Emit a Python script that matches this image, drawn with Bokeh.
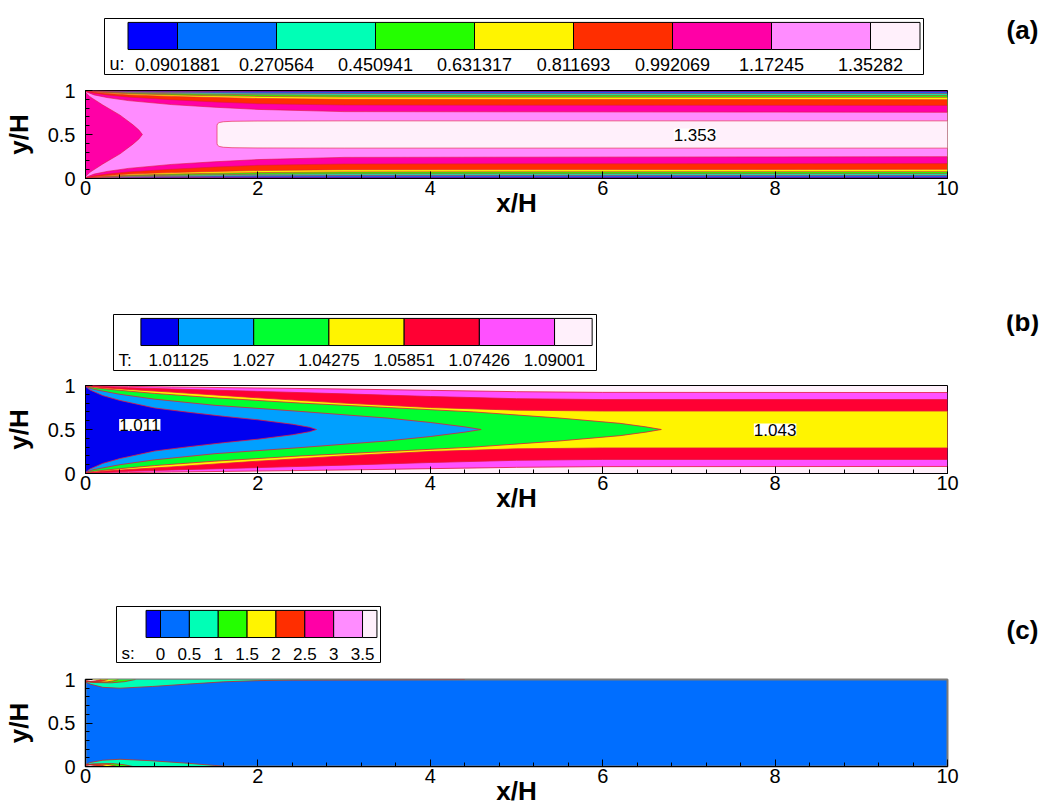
import numpy as np
from decimal import Decimal, ROUND_HALF_UP

from bokeh.plotting import figure
from bokeh.layouts import column, row
from bokeh.models import Range1d, FixedTicker, Label, Spacer
from bokeh.core.properties import value
from bokeh.embed import file_html
from bokeh.resources import INLINE

FONT = "Liberation Sans"
PAGE_W = 1051

# ---------------------------------------------------------------- colour tables
RAINBOW = ["#0000ff", "#006eff", "#00ffb6", "#24ff00", "#fff400",
           "#ff2e00", "#ff00a6", "#ff8cff", "#fff0fb"]
T_COLORS = ["#0000f0", "#00a0ff", "#00ff30", "#fff400", "#ff0033",
            "#ff50ff", "#fff0fb"]
LINE_RED = "#e01a3c"
LINE_S = "#b83030"

# ---------------------------------------------------------------- (a) velocity u
U_LEVELS = [0.0901881, 0.270564, 0.450941, 0.631317, 0.811693, 0.992069, 1.17245, 1.35282]
# distance of each u-contour from the walls at these stations
U_X = [0.0, 0.1, 0.25, 0.5, 1.0, 1.5, 2.0, 3.0, 10.0]
U_D0 = [0.001, 0.003, 0.005, 0.008, 0.010, 0.012, 0.013, 0.014, 0.014]
U_D1 = [0.002, 0.007, 0.012, 0.018, 0.024, 0.028, 0.031, 0.034, 0.035]
U_D2 = [0.003, 0.011, 0.018, 0.027, 0.036, 0.043, 0.048, 0.053, 0.055]
U_D3 = [0.004, 0.015, 0.025, 0.037, 0.050, 0.060, 0.067, 0.075, 0.078]
U_D4 = [0.005, 0.021, 0.034, 0.050, 0.067, 0.080, 0.090, 0.100, 0.104]
U_D5 = [0.007, 0.030, 0.050, 0.075, 0.105, 0.130, 0.150, 0.165, 0.170]
U_D6 = [0.012, 0.050, 0.080, 0.115, 0.160, 0.190, 0.215, 0.240, 0.248]
# inlet core still below the 1.17245 level
U_CORE_X = [0.0, 0.05, 0.2, 0.4, 0.55, 0.62, 0.66]
U_CORE_D = [0.02, 0.07, 0.165, 0.28, 0.39, 0.45, 0.5]
# region above the 1.35282 level
U_PEAK_X = [1.526, 1.53, 1.55, 1.6, 1.7, 2.0, 3.0, 10.0]
U_PEAK_D = [0.40, 0.38, 0.365, 0.355, 0.35, 0.347, 0.345, 0.345]
U_LABEL_X, U_LABEL_Y = 7.07, 0.5

# ---------------------------------------------------------------- (b) temperature T
T_LEVELS = [1.01125, 1.027, 1.04275, 1.05851, 1.07426, 1.09001]
T0_X = [0.0, 0.05, 0.2, 0.4, 0.8, 1.2, 1.6, 2.0, 2.4, 2.6, 2.68]
T0_D = [0.01, 0.05, 0.115, 0.17, 0.255, 0.305, 0.35, 0.39, 0.44, 0.475, 0.5]
T1_X = [0.0, 0.05, 0.1, 0.4, 0.8, 1.5, 2.5, 3.5, 4.0, 4.4, 4.59]
T1_D = [0.005, 0.03, 0.045, 0.10, 0.155, 0.225, 0.295, 0.37, 0.42, 0.47, 0.5]
T2_X = [0.0, 0.1, 0.4, 0.8, 1.5, 2.5, 3.5, 4.5, 5.5, 6.2, 6.5, 6.68]
T2_D = [0.004, 0.025, 0.055, 0.09, 0.14, 0.2, 0.25, 0.3, 0.37, 0.43, 0.47, 0.5]
T_WALL_X = [0.0, 0.2, 0.5, 1.0, 2.0, 3.0, 4.0, 5.0, 6.0, 10.0]
T3_D = [0.003, 0.025, 0.045, 0.075, 0.14, 0.2, 0.25, 0.28, 0.29, 0.29]
T4_D = [0.002, 0.012, 0.025, 0.04, 0.067, 0.095, 0.125, 0.15, 0.16, 0.16]
T5_D = [0.001, 0.005, 0.01, 0.017, 0.028, 0.04, 0.055, 0.07, 0.078, 0.08]
T_LABEL0_X, T_LABEL0_Y = 0.63, 0.55
T_LABEL2_X, T_LABEL2_Y = 8.0, 0.5

# ---------------------------------------------------------------- (c) entropy s
S_LEVELS = [0.0, 0.5, 1.0, 1.5, 2.0, 2.5, 3.0, 3.5]
# wall-attached lenses: thickness measured from the upper wall
S05_TOP_X = [0.0, 0.06, 0.2, 0.4, 0.78, 1.2, 1.6, 2.0, 2.4, 3.2, 4.4]
S05_TOP_T = [0.03, 0.055, 0.09, 0.10, 0.08, 0.052, 0.027, 0.013, 0.006, 0.004, 0.0]
S10_TOP_X = [0.0, 0.1, 0.3, 0.45, 0.58]
S10_TOP_T = [0.025, 0.035, 0.038, 0.025, 0.0]
S15_TOP_X = [0.0, 0.12, 0.25, 0.33, 0.38]
S15_TOP_T = [0.02, 0.028, 0.028, 0.015, 0.0]
S20_TOP_X = [0.0, 0.08, 0.18, 0.26]
S20_TOP_T = [0.02, 0.028, 0.02, 0.0]
S35_TOP_X = [0.0, 0.06, 0.12, 0.18]
S35_TOP_T = [0.012, 0.022, 0.015, 0.0]
# ... and from the lower wall
S05_BOT_X = [0.0, 0.05, 0.2, 0.4, 0.75, 1.15, 1.5, 1.62]
S05_BOT_T = [0.02, 0.045, 0.072, 0.083, 0.067, 0.04, 0.012, 0.0]
S10_BOT_X = [0.0, 0.1, 0.3, 0.45, 0.55]
S10_BOT_T = [0.02, 0.03, 0.035, 0.02, 0.0]
S15_BOT_X = [0.0, 0.12, 0.25, 0.32, 0.36]
S15_BOT_T = [0.018, 0.025, 0.025, 0.012, 0.0]
S20_BOT_X = [0.0, 0.08, 0.17, 0.24]
S20_BOT_T = [0.018, 0.025, 0.018, 0.0]
S35_BOT_X = [0.0, 0.05, 0.1, 0.16]
S35_BOT_T = [0.012, 0.02, 0.012, 0.0]

# axis ticks
X_MAJOR = [0, 2, 4, 6, 8, 10]
X_MINOR = list(np.round(np.arange(0, 10.001, 0.4), 3))
Y_MAJOR = [0, 0.5, 1]
Y_MINOR = list(np.round(np.arange(0, 1.0001, 0.1), 3))


def level_text(v):
    return str(Decimal(str(v)).quantize(Decimal("0.001"), rounding=ROUND_HALF_UP))


# ---------------------------------------------------------------- geometry helpers
def core_band(xs, ds):
    """Region lying between a symmetric contour pair y=d and y=1-d."""
    xs, ds = list(xs), list(ds)
    return xs + xs[::-1], [1 - d for d in ds] + ds[::-1]


def core_lines(xs, ds):
    xs, ds = list(xs), list(ds)
    up = [1 - d for d in ds]
    if ds[-1] >= 0.5:
        return [(xs + xs[::-1], up + ds[::-1])]
    if xs[0] > 0:
        return [(xs[::-1] + xs, up[::-1] + ds)]
    return [(xs, up), (xs, ds)]


def wall_band(xs, ts, side):
    xs, ts = list(xs), list(ts)
    if side == "top":
        return xs + xs[::-1], [1.0] * len(xs) + [1 - t for t in ts[::-1]]
    return xs + xs[::-1], [0.0] * len(xs) + ts[::-1]


def wall_line(xs, ts, side):
    xs, ts = list(xs), list(ts)
    if side == "top":
        return xs, [1 - t for t in ts]
    return xs, ts


# ---------------------------------------------------------------- figure builders
def channel_figure(height, left, right, top, bottom, background, outline="black"):
    p = figure(width=PAGE_W, height=height, x_range=Range1d(0, 10), y_range=Range1d(0, 1),
               toolbar_location=None, output_backend="svg", title=None,
               min_border_left=left, min_border_right=right,
               min_border_top=top, min_border_bottom=bottom)
    p.grid.visible = False
    p.background_fill_color = background
    p.border_fill_color = "white"
    p.outline_line_color = outline
    p.outline_line_width = 2 if outline != "black" else 1
    p.outline_line_alpha = 1.0

    p.xaxis.ticker = FixedTicker(ticks=X_MAJOR, minor_ticks=X_MINOR)
    p.yaxis.ticker = FixedTicker(ticks=Y_MAJOR, minor_ticks=Y_MINOR)
    p.yaxis.major_label_overrides = {0: "0", 0.5: "0.5", 1: "1"}
    p.xaxis.axis_label = "x/H"
    p.yaxis.axis_label = "y/H"
    for ax in (p.xaxis[0], p.yaxis[0]):
        ax.axis_line_color = "black"
        ax.major_tick_line_color = "black"
        ax.minor_tick_line_color = "black"
        ax.major_tick_in = 7
        ax.major_tick_out = 0
        ax.minor_tick_in = 4
        ax.minor_tick_out = 0
        ax.major_label_text_font = FONT
        ax.major_label_text_font_size = "20px"
        ax.major_label_text_color = "black"
        ax.axis_label_text_font = FONT
        ax.axis_label_text_font_size = "26px"
        ax.axis_label_text_font_style = "bold"
        ax.axis_label_text_color = "black"
    p.xaxis.major_label_standoff = 2
    p.xaxis.axis_label_standoff = -10
    p.yaxis.major_label_standoff = 10
    p.yaxis.axis_label_standoff = 11
    return p


def legend_figure(levels, colors, name, box_l, box_r, first_px, seg_px,
                  height, top, bottom, label_y, font_size):
    step = levels[1] - levels[0]

    def val(px):
        return levels[0] + (px - first_px) * step / seg_px

    p = figure(width=box_r - box_l, height=height,
               x_range=Range1d(val(box_l), val(box_r)), y_range=Range1d(0, 1),
               toolbar_location=None, output_backend="svg", title=None,
               x_axis_location=None, y_axis_location=None,
               min_border_left=0, min_border_right=0,
               min_border_top=top, min_border_bottom=bottom)
    p.grid.visible = False
    p.outline_line_color = "black"
    p.outline_line_width = 1
    p.background_fill_color = "white"
    p.border_fill_color = "white"

    edges = [levels[0] - step / 2] + list(levels) + [levels[-1] + step / 2]
    p.quad(left=edges[:-1], right=edges[1:], bottom=0.446, top=0.93,
           fill_color=colors, line_color="black", line_width=1)
    p.text(x=list(levels), y=[label_y] * len(levels),
           text=[f"{v:.6g}" for v in levels],
           text_font=value(FONT), text_font_size=font_size, text_color="black",
           text_align="center", text_baseline="middle")
    p.text(x=[val(box_l + 5)], y=[label_y], text=[name + ":"],
           text_font=value(FONT), text_font_size=font_size, text_color="black",
           text_align="left", text_baseline="middle")
    return p


def tag_figure(text, width, height, cx, cy):
    p = figure(width=width, height=height, x_range=Range1d(0, width),
               y_range=Range1d(0, height), toolbar_location=None, title=None,
               output_backend="svg", x_axis_location=None, y_axis_location=None,
               min_border_left=0, min_border_right=0,
               min_border_top=0, min_border_bottom=0)
    p.grid.visible = False
    p.outline_line_color = None
    p.text(x=[cx], y=[height - cy], text=[text], text_font=value(FONT),
           text_font_size="26px", text_font_style="bold", text_color="black",
           text_align="center", text_baseline="middle")
    return p


def value_label(p, x, y, v):
    p.add_layout(Label(x=x, y=y, text=level_text(v), text_font=FONT,
                       text_font_size="17px", text_color="black",
                       text_align="center", text_baseline="middle",
                       background_fill_color="white"))


# ---------------------------------------------------------------- (a) u field
pa = channel_figure(220, 85, 103, 10, 122, RAINBOW[0])
a_bands = [(U_X, U_D0, RAINBOW[1]), (U_X, U_D1, RAINBOW[2]), (U_X, U_D2, RAINBOW[3]),
           (U_X, U_D3, RAINBOW[4]), (U_X, U_D4, RAINBOW[5]), (U_X, U_D5, RAINBOW[6]),
           (U_X, U_D6, RAINBOW[7]), (U_CORE_X, U_CORE_D, RAINBOW[6]),
           (U_PEAK_X, U_PEAK_D, RAINBOW[8])]
pxs, pys, pcs, lxs, lys = [], [], [], [], []
for xs, ds, c in a_bands:
    bx, by = core_band(xs, ds)
    pxs.append(bx); pys.append(by); pcs.append(c)
    for lx, ly in core_lines(xs, ds):
        lxs.append(lx); lys.append(ly)
pa.patches(xs=pxs, ys=pys, fill_color=pcs, line_color=None)
pa.multi_line(xs=lxs, ys=lys, line_color=LINE_RED, line_width=0.8, line_alpha=0.75)
value_label(pa, U_LABEL_X, U_LABEL_Y, U_LEVELS[-1])

# ---------------------------------------------------------------- (b) T field
pb = channel_figure(220, 83, 104, 10, 122, T_COLORS[6])
b_bands = [(T_WALL_X, T5_D, T_COLORS[5]), (T_WALL_X, T4_D, T_COLORS[4]),
           (T_WALL_X, T3_D, T_COLORS[3]), (T2_X, T2_D, T_COLORS[2]),
           (T1_X, T1_D, T_COLORS[1]), (T0_X, T0_D, T_COLORS[0])]
pxs, pys, pcs, lxs, lys = [], [], [], [], []
for xs, ds, c in b_bands:
    bx, by = core_band(xs, ds)
    pxs.append(bx); pys.append(by); pcs.append(c)
    for lx, ly in core_lines(xs, ds):
        lxs.append(lx); lys.append(ly)
pb.patches(xs=pxs, ys=pys, fill_color=pcs, line_color=None)
pb.multi_line(xs=lxs, ys=lys, line_color=LINE_RED, line_width=1, line_alpha=0.8)
value_label(pb, T_LABEL0_X, T_LABEL0_Y, T_LEVELS[0])
value_label(pb, T_LABEL2_X, T_LABEL2_Y, T_LEVELS[2])

# ---------------------------------------------------------------- (c) s field
pc = channel_figure(142, 85, 103, 12, 43, RAINBOW[1], outline="#7a7a7a")
c_bands = [(S05_TOP_X, S05_TOP_T, "top", RAINBOW[2]), (S05_BOT_X, S05_BOT_T, "bottom", RAINBOW[2]),
           (S10_TOP_X, S10_TOP_T, "top", RAINBOW[3]), (S10_BOT_X, S10_BOT_T, "bottom", RAINBOW[3]),
           (S15_TOP_X, S15_TOP_T, "top", RAINBOW[4]), (S15_BOT_X, S15_BOT_T, "bottom", RAINBOW[4]),
           (S20_TOP_X, S20_TOP_T, "top", RAINBOW[5]), (S20_BOT_X, S20_BOT_T, "bottom", RAINBOW[5]),
           (S35_TOP_X, S35_TOP_T, "top", RAINBOW[8]), (S35_BOT_X, S35_BOT_T, "bottom", RAINBOW[8])]
pxs, pys, pcs, lxs, lys = [], [], [], [], []
for xs, ts, side, c in c_bands:
    bx, by = wall_band(xs, ts, side)
    pxs.append(bx); pys.append(by); pcs.append(c)
    lx, ly = wall_line(xs, ts, side)
    lxs.append(lx); lys.append(ly)
pc.patches(xs=pxs, ys=pys, fill_color=pcs, line_color=None)
pc.multi_line(xs=lxs, ys=lys, line_color=LINE_S, line_width=1, line_alpha=0.85)

# ---------------------------------------------------------------- legends and tags
leg_a = legend_figure(U_LEVELS, RAINBOW, "u", 104, 924, 177, 99, 80, 18, 6, 0.179, "18px")
leg_b = legend_figure(T_LEVELS, T_COLORS, "T", 113, 597, 178, 75.2, 75, 14, 5, 0.179, "17px")
leg_c = legend_figure(S_LEVELS, RAINBOW, "s", 116, 381, 160, 28.86, 72, 11, 5, 0.16, "17px")

tag_a = tag_figure("(a)", PAGE_W - 924, 80, 98, 16)
tag_b = tag_figure("(b)", PAGE_W - 597, 75, 425, 10)
tag_c = tag_figure("(c)", PAGE_W - 381, 72, 641, 30)

layout = column(
    row(Spacer(width=104, height=80), leg_a, tag_a),
    pa,
    row(Spacer(width=113, height=75), leg_b, tag_b),
    pb,
    row(Spacer(width=116, height=72), leg_c, tag_c),
    pc,
)

open("out.html", "w").write(file_html(layout, INLINE))
